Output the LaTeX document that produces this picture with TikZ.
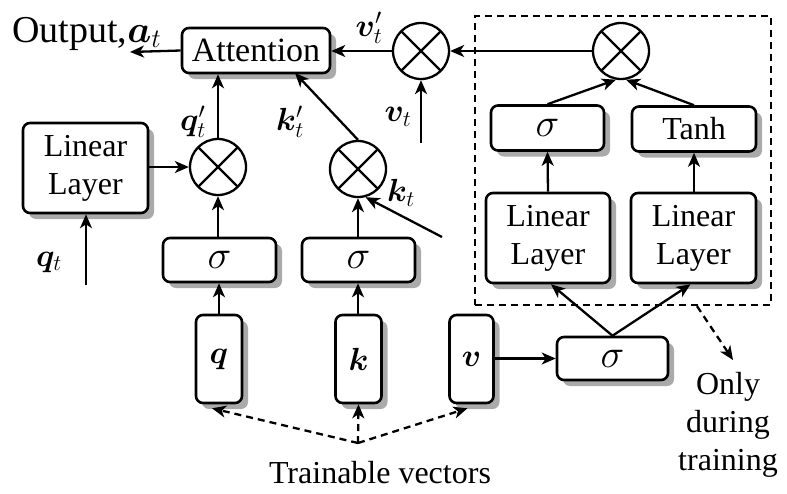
\RequirePackage{fix-cm}
\documentclass[tikz,border=0pt]{standalone}
\usepackage{amsmath}
\usepackage{bm}
\usepackage{fontspec}
\setmainfont{Liberation Serif}
\usetikzlibrary{arrows.meta,calc}
\newcommand{\bsig}{{\fontsize{40}{40}\selectfont$\sigma$}}
\definecolor{shadowgray}{RGB}{170,170,170}
\begin{document}
\begin{tikzpicture}[x=1pt,y=-1pt,
  font=\fontsize{32}{38}\selectfont,
  box/.style={draw,line width=2.6pt,rounded corners=7pt,fill=white,inner sep=0pt},
  mult/.style={draw,circle,line width=2.3pt,minimum size=56pt,inner sep=0pt,
    path picture={\draw[line width=2.3pt] (path picture bounding box.north west)--(path picture bounding box.south east)
      (path picture bounding box.south west)--(path picture bounding box.north east);}},
  arr/.style={line width=2.3pt,-{Stealth[length=14pt,width=12pt,inset=4pt]}},
  darr/.style={line width=2.3pt,dash pattern=on 7pt off 5pt,-{Stealth[length=14pt,width=12pt,inset=4pt]}},
  lbl/.style={inner sep=0pt}]
\useasboundingbox (0,0) rectangle (787,493);

% shadows (drawn first, directly)
\foreach \cx/\cy/\w/\h in {256/50.5/148/45, 85.5/168/125/90, 219.5/260/113/44, 358.5/260/113/44,
  219/359/46/88, 358.5/359/46/88, 471.5/359/44/88, 612.5/358.5/111/43, 548/238/124/90,
  693.5/238/125/90, 547.5/128/113/45, 694/129/124/45}{
  \fill[shadowgray,rounded corners=7pt] (\cx-\w/2+6,\cy-\h/2+6) rectangle (\cx+\w/2+6,\cy+\h/2+6);
}

% dashed region
\node[draw,line width=2.3pt,dash pattern=on 7pt off 5pt,minimum width=296pt,minimum height=289pt,inner sep=0pt] (dbox) at (623,160.5) {};

% boxes
\node[box,minimum width=148pt,minimum height=45pt,font=\fontsize{34}{38}\selectfont] (att) at (256,50.5) {Attention};
\node[box,minimum width=125pt,minimum height=90pt,align=center] (llq) at (85.5,168) {Linear\\Layer};
\node[box,minimum width=113pt,minimum height=44pt] (sq) at (219.5,260) {\bsig};
\node[box,minimum width=113pt,minimum height=44pt] (sk) at (358.5,260) {\bsig};
\node[box,minimum width=46pt,minimum height=88pt] (qb) at (219,359) {$\bm{q}$};
\node[box,minimum width=46pt,minimum height=88pt] (kb) at (358.5,359) {$\bm{k}$};
\node[box,minimum width=44pt,minimum height=88pt] (vb) at (471.5,359) {$\bm{v}$};
\node[box,minimum width=111pt,minimum height=43pt] (sv) at (612.5,358.5) {\bsig};
\node[box,minimum width=124pt,minimum height=90pt,align=center] (ll1) at (548,238) {Linear\\Layer};
\node[box,minimum width=125pt,minimum height=90pt,align=center] (ll2) at (693.5,238) {Linear\\Layer};
\node[box,minimum width=113pt,minimum height=45pt] (sr) at (547.5,128) {\bsig};
\node[box,minimum width=124pt,minimum height=45pt] (th) at (694,129) {Tanh};

% multipliers
\node[mult] (qc) at (218,167) {};
\node[mult] (kc) at (358,169) {};
\node[mult] (vm) at (421,51) {};
\node[mult] (vr) at (621,51) {};

% free ends
\coordinate (out) at (130,52);
\coordinate (kin) at (295,73);
\coordinate (vt) at (421,143);
\coordinate (qt) at (86,285);
\coordinate (kt) at (442,237);
\coordinate (tv) at (358,443);
\coordinate (ot) at (733,360);

% labels
\node[lbl,anchor=base west,font=\fontsize{38}{40}\selectfont] (outl) at (12,42) {Output,$\bm{a}_t$};
\node[lbl] (lqp) at (193,122) {$\bm{q}'_t$};
\node[lbl] (lkp) at (290,122) {$\bm{k}'_t$};
\node[lbl] (lkt) at (401,193) {$\bm{k}_t$};
\node[lbl] (lvp) at (369,28) {$\bm{v}'_t$};
\node[lbl] (lvt) at (398,117) {$\bm{v}_t$};
\node[lbl] (lqt) at (49,262) {$\bm{q}_t$};
\node[lbl,anchor=base] (tr) at (380,483) {Trainable vectors};
\node[lbl,align=center] (only) at (728,425) {Only\\during\\training};

% connectors
\draw[arr] (att.west) -- (out);
\draw[arr] (qc.north) -- (qc.north |- att.south);
\draw[arr] (kc.north) -- (kin);
\draw[arr] (vm.west) -- (vm.west -| att.east);
\draw[arr] (vr.west) -- (vm.east);
\draw[arr] (vt) -- (vm.south);
\draw[arr] (qt) -- (qt |- llq.south);
\draw[arr] (llq.east |- qc.west) -- (qc.west);
\draw[arr] (sq.north -| qc.south) -- (qc.south);
\draw[arr] (qb.north) -- (qb.north |- sq.south);
\draw[arr] (sk.north -| kc.south) -- (kc.south);
\draw[arr] (kb.north -| kc.south) -- (kc.south |- sk.south);
\draw[arr] (kt) -- (kc.-75);
\draw[arr] (vb.east |- sv.west) -- (sv.west);
\draw[arr] (sv.north) -- ([xshift=3pt]ll1.south);
\draw[arr] (sv.north) -- ([xshift=-3pt]ll2.south);
\draw[arr] (ll1.north) -- (sr.south);
\draw[arr] (ll2.north -| th.south) -- (th.south);
\draw[arr] (sr.north) -- (vr.-100);
\draw[arr] (th.north) -- (vr.-80);
\draw[darr] (tv) -- ([xshift=-7pt,yshift=-4pt]qb.south);
\draw[darr] (tv) -- (kb.south);
\draw[darr] (tv) -- ([xshift=-4pt,yshift=-4pt]vb.south);
\draw[darr] ([xshift=74pt]dbox.south) -- (ot);
\end{tikzpicture}
\end{document}
